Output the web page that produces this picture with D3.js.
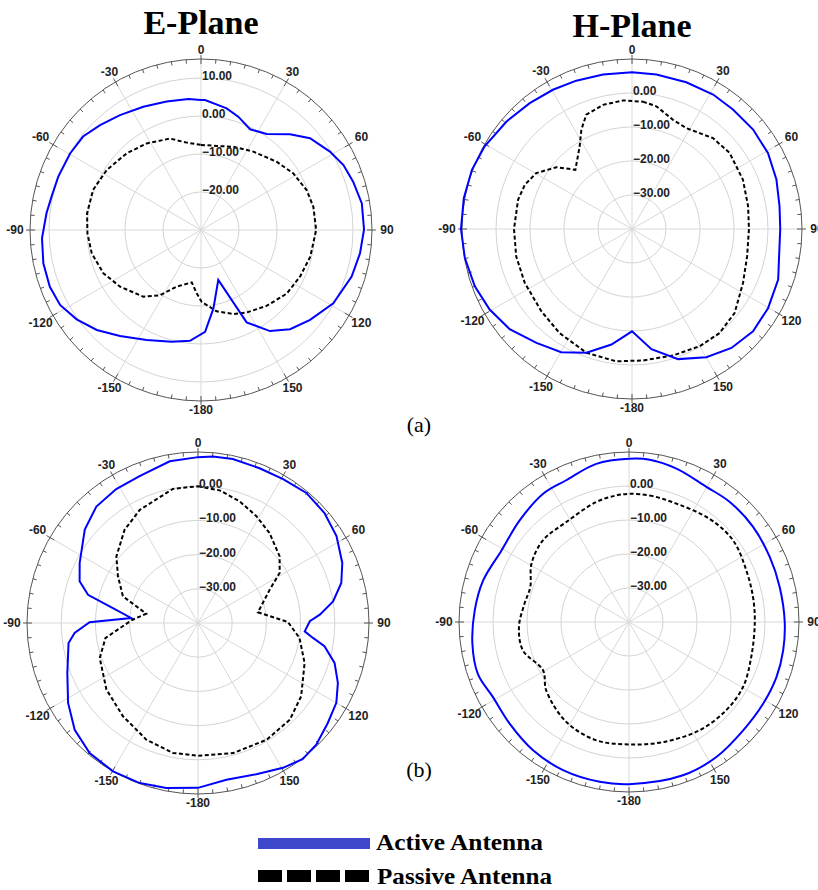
<!DOCTYPE html>
<html>
<head>
<meta charset="utf-8">
<script src="https://cdn.jsdelivr.net/npm/d3@7"></script>
<style>
  html, body { margin: 0; padding: 0; background: #fff; }
  svg { display: block; }
</style>
</head>
<body>
<div id="chart"></div>
<script>
// angle (deg, clockwise from top) / gain (dB) pairs
const eActiveA = [[0,4.2],[1.8,4.2],[11.9,2.7],[18.2,1.4],[26,-0.5],[34.4,0.6],[42.9,4.4],[49.9,7.5],[58.7,9.7],[65.5,11.2],[72.4,12.0],[80.6,12.9],[89.8,12.9],[98.3,12.3],[107.2,11.5],[119,9.8],[129.5,7.2],[138.1,5.1],[145.7,2.2],[153.7,-2.9],[160.9,-16.1],[171,-9.1],[177.7,-3.2],[-174.3,-0.7],[-165.3,0.4],[-153.7,2.3],[-142.6,5.1],[-133.8,8.0],[-125.7,10.3],[-118,12.0],[-110.6,12.5],[-101.9,12.4],[-93,11.9],[-83.8,10.9],[-77.4,10.3],[-69.5,10.1],[-59.7,9.9],[-51.6,9.6],[-43.9,8.3],[-35.2,7.0],[-25.1,5.8],[-15,5.0],[-5.5,4.6]];
const ePassiveA = [[0,-7.6],[10.6,-7.5],[21.2,-6.5],[33.7,-5.2],[47.9,-3.2],[58.5,-1.5],[69.3,-0.3],[78.3,0.2],[90,0.3],[103.7,-0.4],[115.2,-1.2],[126.5,-1.9],[139.2,-3.6],[151.1,-5.2],[158.9,-6.3],[169.1,-8.2],[179.5,-11.1],[-176.1,-13.3],[-170,-16.0],[-156.8,-13.8],[-147.8,-9.7],[-139.1,-6.8],[-125,-4.0],[-113.9,-1.9],[-102,-0.6],[-91.7,-0.1],[-81.7,0.3],[-69.6,0.3],[-57.5,-0.6],[-44.1,-1.9],[-32.1,-3.1],[-18.7,-4.6],[-9.3,-6.7]];

const hActiveA = [[0,6.1],[9,6.0],[20.3,6.0],[31.1,6.2],[40.2,6.0],[50.6,6.1],[60.8,5.8],[71.1,4.9],[81.3,3.9],[90,3.6],[100.5,4.0],[109.1,5.5],[120.2,6.3],[130.2,6.6],[140.1,5.6],[149.9,3.6],[160.5,0.6],[170.8,-4.2],[180,-9.9],[-169.9,-5.5],[-159.8,-1.2],[-150.1,1.8],[-140,3.7],[-129.3,6.5],[-119.5,8.1],[-110,9.2],[-99.8,9.9],[-90,10.3],[-79.6,10.3],[-69.7,10.2],[-60.7,9.7],[-49.4,8.6],[-39.1,7.7],[-29.6,7.1],[-20.6,6.6],[-10.6,6.2]];
const hPassiveA = [[4.9,-2.4],[11.2,-3.2],[20.6,-5.7],[28.3,-6.3],[41.7,-4.2],[52.1,-3.6],[66,-4.3],[78.9,-5.2],[90,-5.6],[103.4,-5.2],[115.9,-3.7],[129.3,-1.0],[139.9,0.0],[150,-0.2],[162.1,-0.9],[175.2,-1.2],[-173.2,-0.8],[-159.8,-1.2],[-145.2,-2.7],[-132.2,-4.0],[-116.7,-4.7],[-103.3,-5.0],[-90,-5.3],[-75.6,-5.4],[-67.6,-5.9],[-59.7,-7.4],[-50.7,-11.3],[-43.7,-15.9],[-32.3,-11.2],[-27,-7.2],[-21.8,-3.8],[-13.1,-2.5],[-4,-2.1]];

const eActiveB = [[0,8.5],[5.1,8.9],[12,9.0],[21.7,8.7],[30.6,8.9],[39.8,9.5],[49,9.0],[57.9,7.8],[67.4,5.7],[74.4,3.5],[80.9,0.0],[86.1,-4.3],[89.1,-7.3],[94.5,-8.7],[97.4,-6.1],[100.4,-2.4],[106.3,1.6],[113.2,4.5],[120,6.7],[127.6,7.9],[135.8,9.6],[142.5,10.2],[149.6,9.1],[158.9,7.4],[169.7,6.6],[180,8.2],[-169.1,9.1],[-160,9.8],[-150.2,10.0],[-140.2,9.5],[-130.9,7.7],[-121.6,4.6],[-110.9,0.9],[-98.8,-1.7],[-94.6,-3.8],[-89.6,-8.3],[-85.7,-20.4],[-79.3,-13.7],[-75.6,-6.8],[-70.6,-3.3],[-63.1,-1.2],[-50.5,2.9],[-41.1,5.2],[-31.4,5.9],[-21.7,6.2],[-9.9,8.0]];
const ePassiveB = [[0,0.0],[9.3,-0.7],[18.9,-2.4],[28.7,-4.4],[38.5,-6.4],[50.8,-9.2],[58.5,-12.0],[65.1,-16.9],[79.9,-22.2],[89.4,-13.7],[98.4,-10.0],[110.6,-6.7],[125.4,-3.0],[136.5,-1.0],[149.6,-0.4],[164.9,-0.6],[180,-1.2],[-169.1,-1.3],[-156.1,-2.7],[-141.2,-5.0],[-126,-6.9],[-109.6,-9.5],[-99.2,-12.6],[-87.7,-20.5],[-79.8,-24.6],[-70.4,-16.7],[-59.7,-12.9],[-50.8,-9.2],[-38.2,-5.3],[-27.2,-2.8],[-10.6,-0.1]];

const hActiveB = [[0,8.0],[7.3,8.1],[17.2,7.2],[29.8,5.8],[40,6.1],[52.5,6.0],[65.2,5.6],[76.9,5.5],[90,5.8],[100.4,6.1],[110.5,6.3],[121.4,6.2],[133.5,6.3],[147.1,7.3],[160.6,7.8],[180,7.7],[-169.6,7.8],[-156,7.7],[-143.2,7.1],[-130.4,6.1],[-118.9,5.7],[-108.9,7.0],[-97.9,6.5],[-85.7,5.5],[-74.1,4.6],[-60.7,3.0],[-47.1,3.9],[-33.8,5.4],[-23.9,5.6],[-11.7,7.5]];
const hPassiveB = [[0,-2.3],[9.3,-2.3],[21.8,-2.5],[38,-1.5],[51.9,-1.1],[66.2,-2.3],[78.6,-2.8],[90,-3.0],[106,-2.6],[119.7,-1.4],[132.2,-1.4],[146.9,-2.0],[164.2,-3.3],[180,-4.0],[-164.6,-3.9],[-147.9,-5.3],[-129.6,-8.4],[-119.3,-11.0],[-105,-7.7],[-92.6,-7.6],[-80,-8.8],[-70.5,-9.2],[-59.2,-6.6],[-46.5,-5.1],[-32.1,-5.3],[-15.2,-3.4],[-5.7,-2.6]];

const angleLabels = [0, 30, 60, 90, 120, 150, -180, -150, -120, -90, -60, -30];
const ringsA = [-20, -10, 0, 10];
const ringsB = [-30, -20, -10, 0];

const W = 818, H = 890;
const svg = d3.select('#chart').append('svg')
  .attr('width', W).attr('height', H)
  .style('background', '#fff');

const labelFont = '"Liberation Sans", Arial, sans-serif';
const serif = '"Liberation Serif", "Times New Roman", serif';

function drawPolar(cfg) {
  const g = svg.append('g').attr('transform', `translate(${cfg.cx},${cfg.cy})`);
  const r = d3.scaleLinear().domain(cfg.domain).range([0, cfg.R]);
  const rad = d => d * Math.PI / 180;

  // grid circles
  g.selectAll('circle.ring').data(cfg.rings).join('circle')
    .attr('class', 'ring')
    .attr('r', d => r(d))
    .attr('fill', 'none')
    .attr('stroke', '#d4d4d4')
    .attr('stroke-width', 1);

  // spokes every 30 deg
  g.selectAll('line.spoke').data(d3.range(0, 360, 30)).join('line')
    .attr('class', 'spoke')
    .attr('x1', 0).attr('y1', 0)
    .attr('x2', d => cfg.R * Math.sin(rad(d)))
    .attr('y2', d => -cfg.R * Math.cos(rad(d)))
    .attr('stroke', '#d8d8d8')
    .attr('stroke-width', 1);

  // outer circle + ticks
  g.append('circle')
    .attr('r', cfg.R)
    .attr('fill', 'none')
    .attr('stroke', '#555')
    .attr('stroke-width', 1);

  g.selectAll('line.tick').data(d3.range(0, 360, 5)).join('line')
    .attr('class', 'tick')
    .attr('x1', d => (d % 30 === 0 ? cfg.R + 4 : cfg.R) * Math.sin(rad(d)))
    .attr('y1', d => -(d % 30 === 0 ? cfg.R + 4 : cfg.R) * Math.cos(rad(d)))
    .attr('x2', d => (d % 30 === 0 ? cfg.R - 5 : cfg.R - 4) * Math.sin(rad(d)))
    .attr('y2', d => -(d % 30 === 0 ? cfg.R - 5 : cfg.R - 4) * Math.cos(rad(d)))
    .attr('stroke', '#555')
    .attr('stroke-width', 1);

  // angle labels
  g.selectAll('text.ang').data(angleLabels).join('text')
    .attr('class', 'ang')
    .attr('x', d => (cfg.R + 9 + 6 * Math.abs(Math.sin(rad(d)))) * Math.sin(rad(d)))
    .attr('y', d => -(cfg.R + 9 + 6 * Math.abs(Math.sin(rad(d)))) * Math.cos(rad(d)))
    .attr('text-anchor', 'middle')
    .attr('dominant-baseline', 'central')
    .style('font-family', labelFont)
    .style('font-weight', 'bold')
    .style('font-size', '12px')
    .style('fill', '#222')
    .text(d => d);

  // curves
  const line = d3.lineRadial()
    .angle(d => rad(d[0]))
    .radius(d => r(d[1]))
    .curve(cfg.curve);

  g.append('path')
    .datum(cfg.passive)
    .attr('d', line)
    .attr('fill', 'none')
    .attr('stroke', '#000')
    .attr('stroke-width', 2)
    .attr('stroke-dasharray', '4,2.5');

  g.append('path')
    .datum(cfg.active)
    .attr('d', line)
    .attr('fill', 'none')
    .attr('stroke', '#0000ff')
    .attr('stroke-width', 2);

  // ring labels
  g.selectAll('text.ringlab').data(cfg.rings).join('text')
    .attr('class', 'ringlab')
    .attr('x', 1)
    .attr('y', d => -r(d) + 2)
    .style('font-family', labelFont)
    .style('font-weight', 'bold')
    .style('font-size', '12px')
    .style('fill', '#222')
    .text(d => d3.format('.2f')(d));

  if (cfg.title) {
    svg.append('text')
      .attr('x', cfg.cx)
      .attr('y', cfg.titleY)
      .attr('text-anchor', 'middle')
      .style('font-family', serif)
      .style('font-weight', 'bold')
      .style('font-size', '34px')
      .style('fill', '#000')
      .text(cfg.title);
  }
}

drawPolar({ cx: 201, cy: 230, R: 171, domain: [-30, 15], rings: ringsA,
  active: eActiveA, passive: ePassiveA, curve: d3.curveLinearClosed, title: 'E-Plane', titleY: 34 });
drawPolar({ cx: 632, cy: 229, R: 170, domain: [-40, 10], rings: ringsB,
  active: hActiveA, passive: hPassiveA, curve: d3.curveLinearClosed, title: 'H-Plane', titleY: 37 });
drawPolar({ cx: 198, cy: 623, R: 171, domain: [-40, 10], rings: ringsB,
  active: eActiveB, passive: ePassiveB, curve: d3.curveLinearClosed });
drawPolar({ cx: 629, cy: 622, R: 170, domain: [-40, 10], rings: ringsB,
  active: hActiveB, passive: hPassiveB, curve: d3.curveCatmullRomClosed.alpha(0.5) });

// panel captions
[['(a)', 432], ['(b)', 777]].forEach(([t, y]) => {
  svg.append('text')
    .attr('x', 419).attr('y', y)
    .attr('text-anchor', 'middle')
    .style('font-family', serif)
    .style('font-size', '22px')
    .style('fill', '#000')
    .text(t);
});

// legend
const legend = svg.append('g');
legend.append('rect')
  .attr('x', 258).attr('y', 838)
  .attr('width', 112).attr('height', 11)
  .attr('fill', '#3f48cc');
legend.append('text')
  .attr('x', 376).attr('y', 850)
  .attr('textLength', 167)
  .attr('lengthAdjust', 'spacingAndGlyphs')
  .style('font-family', serif)
  .style('font-weight', 'bold')
  .style('font-size', '23px')
  .text('Active Antenna');
legend.append('line')
  .attr('x1', 258).attr('x2', 370)
  .attr('y1', 876).attr('y2', 876)
  .attr('stroke', '#000')
  .attr('stroke-width', 12)
  .attr('stroke-dasharray', '24,5');
legend.append('text')
  .attr('x', 377).attr('y', 884)
  .attr('textLength', 175)
  .attr('lengthAdjust', 'spacingAndGlyphs')
  .style('font-family', serif)
  .style('font-weight', 'bold')
  .style('font-size', '23px')
  .text('Passive Antenna');
</script>
</body>
</html>
